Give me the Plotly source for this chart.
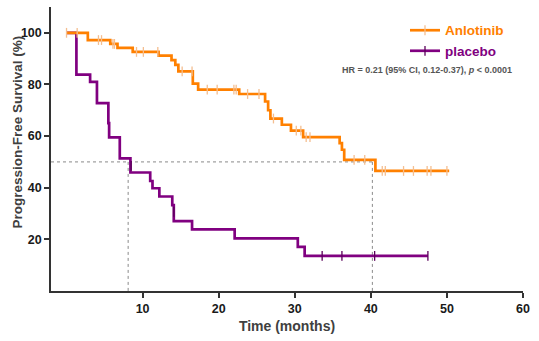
import plotly.graph_objects as go

# ---- data ----
anl_t = [0, 2.8, 5.75, 6.7, 8.7, 12.1, 13.8, 14.3, 14.7, 16.6, 17.3, 22.7, 26.1, 26.5, 26.8,
         28.3, 29.5, 31.1, 35.9, 36.2, 36.5, 40.6, 50.3]
anl_s = [100, 97.2, 95.7, 94.2, 92.6, 91.2, 89.4, 87.6, 85.1, 80.3, 78.0, 76.3, 73.4, 70.0, 66.8,
         64.4, 62.1, 59.6, 57.3, 54.7, 50.8, 46.5, 46.5]
anl_cens_t = [0, 1.4, 4.2, 4.6, 6.1, 6.3, 9.2, 10.1, 12.0, 15.2, 16.5, 18.5, 19.8, 22.0, 22.3,
              23.8, 25.3, 27.2, 30.2, 30.8, 31.5, 32.0, 37.8, 39.2, 41.5, 41.9, 44.3, 45.6,
              47.4, 47.9, 50.0]

pla_t = [0, 1.3, 3.1, 4.0, 5.5, 5.6, 7.0, 8.4, 11.0, 11.3, 12.2, 13.9, 14.1, 16.5, 22.1,
         30.4, 31.3, 47.5]
pla_s = [100, 83.8, 81.0, 72.8, 65.0, 59.5, 51.4, 45.9, 42.6, 39.8, 36.6, 33.3, 27.1, 23.9,
         20.4, 17.1, 13.6, 13.6]
pla_cens_t = [8.5, 14.1, 33.6, 36.2, 40.5, 47.5]
pla_cens_s = [48.5, 30.7, 13.6, 13.6, 13.6, 13.6]

median_t = [40.2, 8.1]
median_s = 50

x_ticks = [10, 20, 30, 40, 50, 60]
y_ticks = [20, 40, 60, 80, 100]
x_range = [-2.04, 60]
y_range = [0, 110]

ORANGE = "#FF8000"
PURPLE = "#800080"
FONT = "Liberation Sans"


def step_value(ts, ss, t):
    v = ss[0]
    for ti, si in zip(ts, ss):
        if ti <= t:
            v = si
    return v


anl_cens_s = [step_value(anl_t, anl_s, t) for t in anl_cens_t]

fig = go.Figure()

dot = dict(color="#8a8a8a", width=1, dash="dot")
# median reference lines
fig.add_trace(go.Scatter(x=[x_range[0], max(median_t)], y=[median_s, median_s], mode="lines",
                         line=dot, showlegend=False, hoverinfo="skip"))
for mt in median_t:
    fig.add_trace(go.Scatter(x=[mt, mt], y=[median_s, 0], mode="lines",
                             line=dot, showlegend=False, hoverinfo="skip"))

# placebo
fig.add_trace(go.Scatter(x=pla_t, y=pla_s, mode="lines", line=dict(color=PURPLE, width=2.7, shape="hv"),
                         showlegend=False))
fig.add_trace(go.Scatter(x=pla_cens_t, y=pla_cens_s, mode="markers",
                         marker=dict(symbol="line-ns", size=7, line=dict(color="#5a005a", width=1.3)),
                         showlegend=False))
# anlotinib
fig.add_trace(go.Scatter(x=anl_t, y=anl_s, mode="lines", line=dict(color=ORANGE, width=2.7, shape="hv"),
                         showlegend=False))
fig.add_trace(go.Scatter(x=anl_cens_t, y=anl_cens_s, mode="markers",
                         marker=dict(symbol="line-ns", size=7, line=dict(color="#F4BE90", width=1.3)),
                         showlegend=False))

# legend entries
fig.add_trace(go.Scatter(x=[None], y=[None], mode="lines+markers",
                         name="<span style='color:%s'>Anlotinib</span>" % ORANGE,
                         line=dict(color=ORANGE, width=2.7),
                         marker=dict(symbol="line-ns", size=7, line=dict(color="#F4BE90", width=1.3)),
                         legendgroup="a"))
fig.add_trace(go.Scatter(x=[None], y=[None], mode="lines+markers",
                         name="<span style='color:%s'>placebo</span>" % PURPLE,
                         line=dict(color=PURPLE, width=2.7),
                         marker=dict(symbol="line-ns", size=7, line=dict(color="#5a005a", width=1.3)),
                         legendgroup="b"))

fig.add_annotation(x=0.797, y=0.778, xref="paper", yref="paper", showarrow=False,
                   xanchor="center", yanchor="middle",
                   text="HR = 0.21 (95% CI, 0.12-0.37), <i>p</i> < 0.0001",
                   font=dict(family=FONT, size=9, color="#555555", weight="bold"))

# y-axis title
fig.add_annotation(x=-0.0715, y=0.559, xref="paper", yref="paper", showarrow=False,
                   xanchor="center", yanchor="middle", textangle=-90,
                   text="Progression-Free Survival (%)",
                   font=dict(family=FONT, size=13.5, color="#404040", weight="bold"))

axis_common = dict(showline=True, linecolor="#333333", linewidth=1.5, ticks="outside", ticklen=5,
                   tickwidth=1.5, tickcolor="#333333", showgrid=False, zeroline=False,
                   tickfont=dict(family=FONT, size=12.5, color="#1a1a1a", weight="bold"))

fig.update_layout(
    width=539, height=341,
    margin=dict(l=51, r=16, t=7, b=50),
    paper_bgcolor="white", plot_bgcolor="white",
    xaxis=dict(range=x_range, tickvals=x_ticks, **axis_common,
               title=dict(text="Time (months)", standoff=6,
                          font=dict(family=FONT, size=14, color="#404040", weight="bold"))),
    yaxis=dict(range=y_range, tickvals=y_ticks, **axis_common),
    legend=dict(x=0.75, y=0.972, xanchor="left", yanchor="top", bgcolor="rgba(0,0,0,0)",
                traceorder="grouped", tracegroupgap=0,
                font=dict(family=FONT, size=13.5, weight="bold")),
    showlegend=True,
)

fig.write_html("out.html")
